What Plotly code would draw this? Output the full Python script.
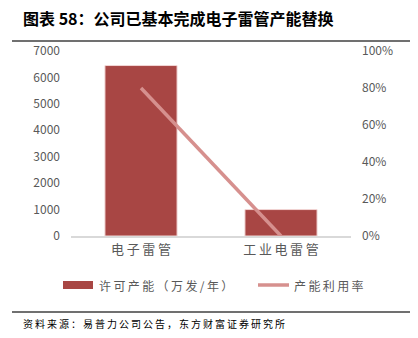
import plotly.graph_objects as go

categories = ["电子雷管", "工业电雷管"]
capacity = [6450, 1000]
utilization = [0.80, 0.0]
left_ticks = [0, 1000, 2000, 3000, 4000, 5000, 6000, 7000]
right_ticks = [0, 0.2, 0.4, 0.6, 0.8, 1.0]
series_names = ["许可产能（万发/年）", "产能利用率"]

FONT = "Noto Sans CJK SC"
W, H = 418, 338
ml, mr, mt, mb = 71, 67, 51, 102
BAR_COLOR = "#A84644"
LINE_COLOR = "#D6908E"

def sp(s, ch="\u2009"):
    return ch.join(s)

fig = go.Figure()
fig.add_trace(go.Bar(
    x=categories, y=capacity, name=series_names[0],
    marker=dict(color=BAR_COLOR, line=dict(color="#F2D6D5", width=1)),
    width=0.515, yaxis="y", showlegend=False,
))
fig.add_trace(go.Scatter(
    x=categories, y=utilization, name=series_names[1], mode="lines",
    line=dict(color=LINE_COLOR, width=3.5), yaxis="y2", showlegend=False,
))

fig.update_layout(
    width=W, height=H,
    margin=dict(l=ml, r=mr, t=mt, b=mb),
    paper_bgcolor="white", plot_bgcolor="white",
    font=dict(family=FONT, color="#595959", size=12),
    showlegend=False,
    xaxis=dict(showline=True, linecolor="#D9D9D9", linewidth=2, ticks="",
               tickfont=dict(size=13, color="#595959"), showgrid=False,
               tickvals=categories, ticktext=[sp(c) for c in categories]),
    yaxis=dict(range=[0, 7000], tickvals=left_ticks, showgrid=False,
               zeroline=False, ticks="", tickfont=dict(size=12, color="#595959"),
               ticklabelstandoff=10),
    yaxis2=dict(range=[0, 1], tickvals=right_ticks, overlaying="y", side="right",
                tickformat=".0%", showgrid=False, zeroline=False, ticks="",
                tickfont=dict(size=12, color="#595959"), ticklabelstandoff=10),
)

pw = W - ml - mr
ph = H - mt - mb
def px2x(px): return (px - ml) / pw
def py2y(py): return (H - mb - py) / ph

fig.add_annotation(text="<b>图表 58：公司已基本完成电子雷管产能替换</b>",
                   xref="paper", yref="paper", x=px2x(21),
                   y=py2y(18), xanchor="left", yanchor="middle",
                   showarrow=False, font=dict(size=16, color="#000000", family=FONT))
fig.add_annotation(text=sp("资料来源：易普力公司公告，东方财富证券研究所"),
                   xref="paper", yref="paper", x=px2x(21),
                   y=py2y(323), xanchor="left", yanchor="middle",
                   showarrow=False, font=dict(size=10, color="#000000", family=FONT))

# legend (drawn manually)
fig.add_shape(type="rect", xref="paper", yref="paper", x0=px2x(63), x1=px2x(93),
              y0=py2y(289), y1=py2y(281), fillcolor=BAR_COLOR, line=dict(width=0))
fig.add_annotation(text=sp(series_names[0]), xref="paper", yref="paper",
                   x=px2x(97), y=py2y(285), xanchor="left", yanchor="middle",
                   showarrow=False, font=dict(size=12, color="#595959", family=FONT))
fig.add_shape(type="line", xref="paper", yref="paper", x0=px2x(258), x1=px2x(289),
              y0=py2y(285), y1=py2y(285), line=dict(color=LINE_COLOR, width=3.5))
fig.add_annotation(text=sp(series_names[1]), xref="paper", yref="paper",
                   x=px2x(292), y=py2y(285), xanchor="left", yanchor="middle",
                   showarrow=False, font=dict(size=12, color="#595959", family=FONT))

fig.add_shape(type="line", xref="paper", yref="paper", x0=px2x(12), x1=px2x(410),
              y0=py2y(41), y1=py2y(41), line=dict(color="#404040", width=1.5))
fig.add_shape(type="line", xref="paper", yref="paper", x0=px2x(12), x1=px2x(410),
              y0=py2y(312), y1=py2y(312), line=dict(color="#404040", width=1.5))

fig.write_html("out.html")
